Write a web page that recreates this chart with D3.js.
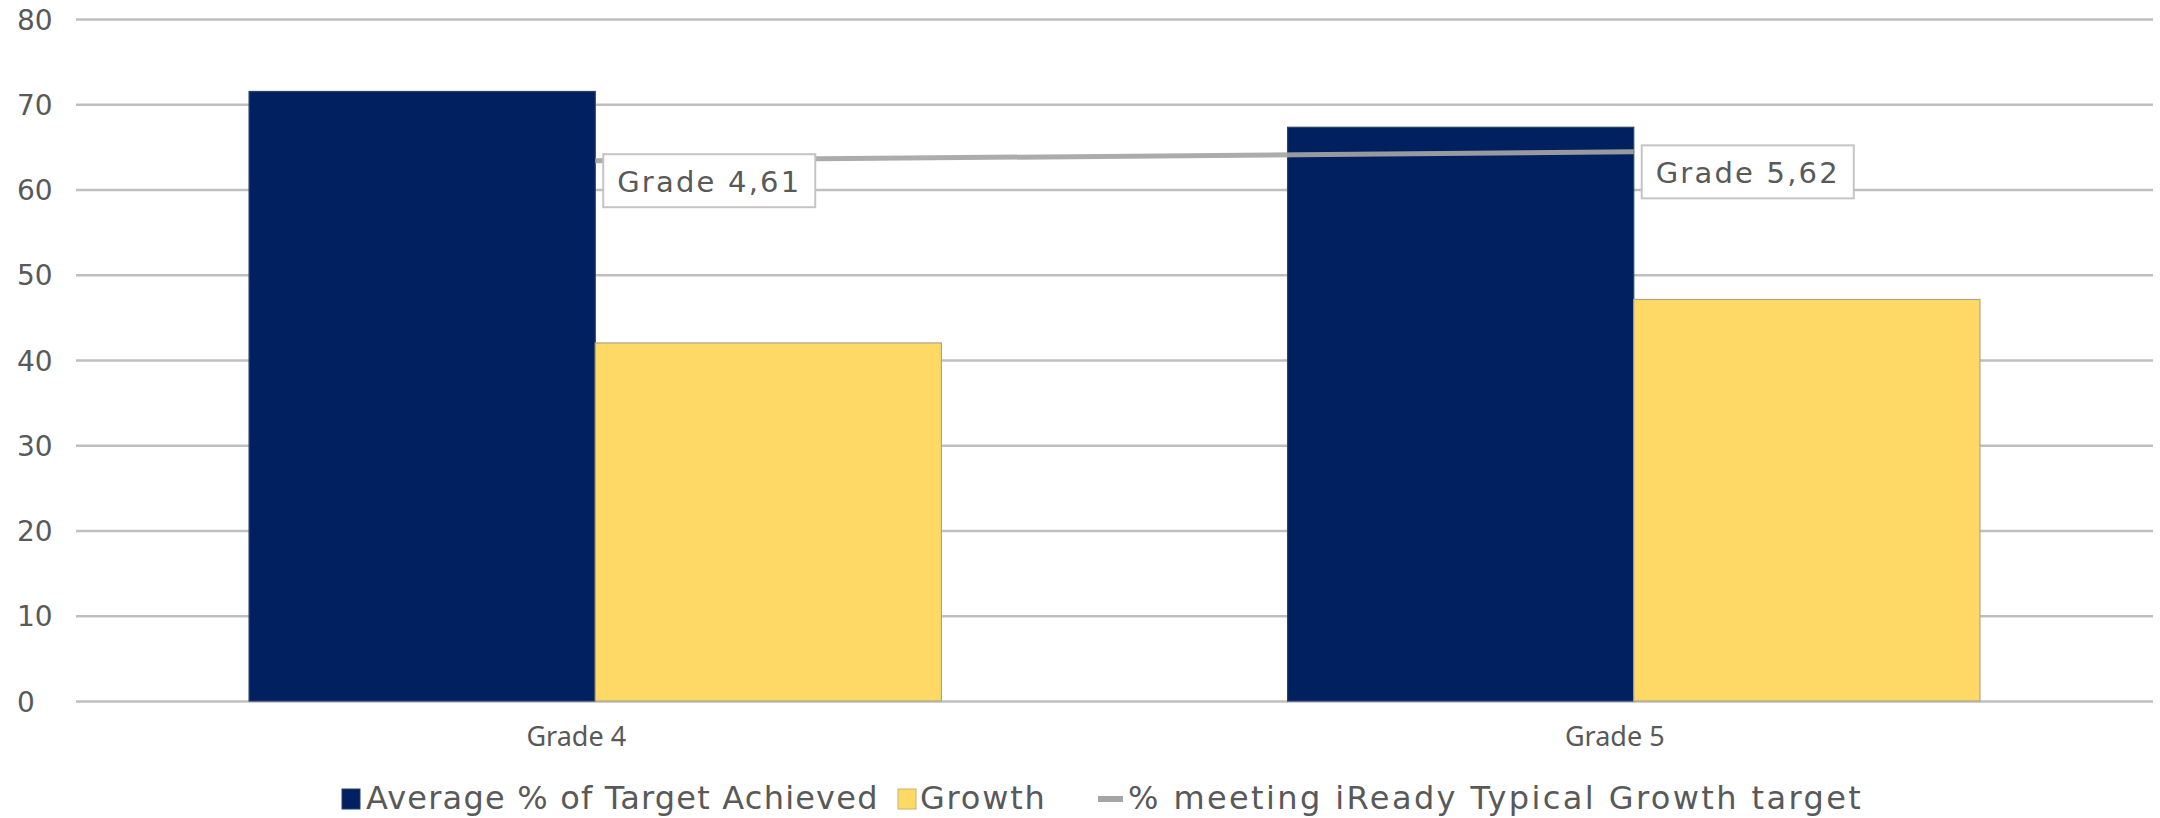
<!DOCTYPE html>
<html>
<head>
<meta charset="utf-8">
<script src="https://cdn.jsdelivr.net/npm/d3@7"></script>
<style>
  html, body { margin: 0; padding: 0; background: #ffffff; }
  svg { display: block; }
  text { font-family: "DejaVu Sans", Verdana, sans-serif; fill: #595959; }
</style>
</head>
<body>
<svg id="chart" width="2160" height="818"></svg>
<script>
// Chart data
const categories = ["Grade 4", "Grade 5"];
const seriesNames = ["Average % of Target Achieved", "Growth"];
const avgTargetAchieved = [71.5, 67.3];
const growth = [42.0, 47.1];
const lineName = "% meeting iReady Typical Growth target";
const meetingTypicalGrowth = [61, 62];
const yTicks = [0, 10, 20, 30, 40, 50, 60, 70, 80];

const colors = { avg: "#002060", growth: "#FFD966", line: "#A5A5A5" };

const svg = d3.select("#chart");
const plot = { left: 76, right: 2153, top: 19, bottom: 701 };

// Scales
const x0 = d3.scaleBand().domain(categories).range([plot.left, plot.right]).paddingInner(0).paddingOuter(0);
const x1 = d3.scaleBand().domain(seriesNames).range([0, x0.bandwidth()]).paddingInner(0).paddingOuter(0.5);
const y = d3.scaleLinear().domain([0, 80]).range([plot.bottom, plot.top]);
// the percentage line sits on its own (unlabelled) secondary axis
const yLine = d3.scaleLinear().domain([0, 77]).range([plot.bottom, plot.top]);

// Gridlines and value labels
const yAxis = d3.axisLeft(y).tickValues(yTicks).tickSize(-(plot.right - plot.left)).tickFormat(d3.format("d"));
const gAxis = svg.append("g").attr("transform", `translate(${plot.left},0)`).call(yAxis);
gAxis.select(".domain").remove();
gAxis.selectAll(".tick line").attr("stroke", "#bfbfbf").attr("stroke-width", 2.5);
gAxis.selectAll(".tick text")
  .attr("x", 17 - plot.left)
  .attr("text-anchor", "start")
  .attr("dy", "0.36em")
  .style("font-size", "28px")
  .style("font-family", "\"DejaVu Sans\", sans-serif")
  .attr("fill", "#595959");

// Bars
const rows = categories.map((c, i) => ({ cat: c, values: [
  { name: seriesNames[0], v: avgTargetAchieved[i], color: colors.avg },
  { name: seriesNames[1], v: growth[i], color: colors.growth }
]}));

const groups = svg.append("g").selectAll("g").data(rows).join("g")
  .attr("transform", d => `translate(${x0(d.cat)},0)`);
groups.selectAll("rect").data(d => d.values).join("rect")
  .attr("x", d => x1(d.name))
  .attr("width", x1.bandwidth())
  .attr("y", d => y(d.v))
  .attr("height", d => y(0) - y(d.v))
  .attr("fill", d => d.color)
  .attr("stroke", d => d.name === "Growth" ? "#b0a58a" : "#2a3f6b")
  .attr("stroke-width", 1.2);

// Category labels
svg.append("g").selectAll("text").data(categories).join("text")
  .attr("x", d => x0(d) + x0.bandwidth() / 2 - 19)
  .attr("y", 746)
  .attr("text-anchor", "middle")
  .style("font-family", "\"Noto Sans\", sans-serif")
  .style("font-size", "27px")
  .text(d => d);

// Line series
const pts = categories.map((c, i) => ({ cat: c, v: meetingTypicalGrowth[i],
  x: x0(c) + x0.bandwidth() / 2, y: yLine(meetingTypicalGrowth[i]) }));
svg.append("path")
  .datum(pts)
  .attr("d", d3.line().x(d => d.x).y(d => d.y))
  .attr("fill", "none")
  .attr("stroke", colors.line)
  .attr("stroke-opacity", 0.92)
  .attr("stroke-width", 5);

// Data labels for the line
const lbl = svg.append("g").selectAll("g").data(pts).join("g")
  .attr("transform", d => `translate(${d.x + 8},${d.y - 6.5})`);
lbl.append("rect")
  .attr("width", 212).attr("height", 53)
  .attr("fill", "#ffffff")
  .attr("stroke", "#c4c4c4").attr("stroke-width", 2);
lbl.append("text")
  .attr("x", 106).attr("y", 38)
  .attr("text-anchor", "middle")
  .style("font-size", "29px")
  .style("letter-spacing", "2.2px")
  .text(d => `${d.cat},${d.v}`);

// Legend
const legend = svg.append("g");
const legendItems = [
  { type: "rect", color: colors.avg, label: seriesNames[0], sx: 342, tx: 366, ls: 1.2 },
  { type: "rect", color: colors.growth, label: seriesNames[1], sx: 898, tx: 920, ls: 1.8 },
  { type: "line", color: colors.line, label: lineName, sx: 1098, tx: 1128, ls: 2.4 }
];
legendItems.forEach(it => {
  if (it.type === "rect") {
    legend.append("rect").attr("x", it.sx).attr("y", 789).attr("width", 18).attr("height", 20)
      .attr("fill", it.color).attr("stroke", it.color === colors.growth ? "#c9b26a" : "#2a3f6b").attr("stroke-width", 1);
  } else {
    legend.append("line").attr("x1", it.sx).attr("x2", it.sx + 25).attr("y1", 799).attr("y2", 799)
      .attr("stroke", it.color).attr("stroke-width", 6);
  }
  legend.append("text").attr("x", it.tx).attr("y", 809)
    .style("font-size", "32px")
    .style("letter-spacing", it.ls + "px")
    .text(it.label);
});
</script>
</body>
</html>
